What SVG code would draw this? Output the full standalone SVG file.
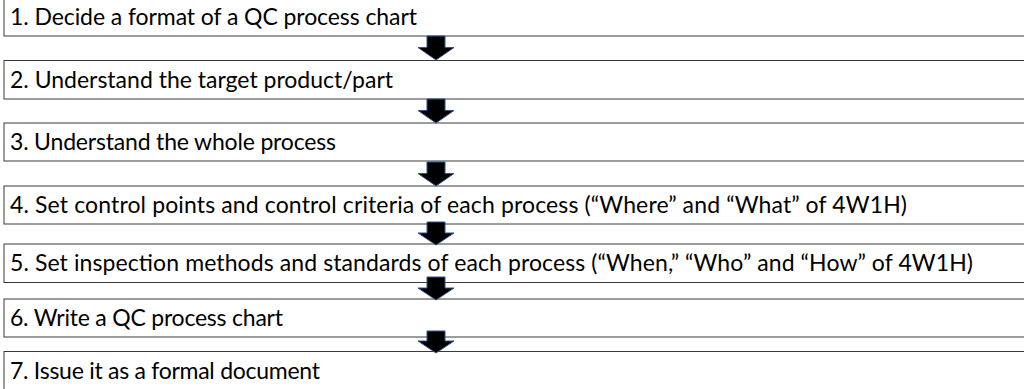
<svg xmlns="http://www.w3.org/2000/svg" width="1024" height="389" viewBox="0 0 1024 389">
  <style>
    .step rect { fill: #ffffff; stroke: #3a3a3a; stroke-width: 1; }
    .step text { font-family: Lato, "Liberation Sans", sans-serif; font-size: 23px; fill: #000000; }
    .flow path { fill: #000000; stroke: #2f528f; stroke-width: 1; stroke-linejoin: miter; }
  </style>
  <rect width="1024" height="389" fill="#ffffff"/>

  <g id="step1" class="step">
    <rect x="4" y="-2" width="1030" height="38"/>
    <text x="10" y="25" textLength="407" lengthAdjust="spacing">1. Decide a format of a QC process chart</text>
  </g>
  <g id="step2" class="step">
    <rect x="4" y="60.5" width="1030" height="38.5"/>
    <text x="10" y="87.5" textLength="383" lengthAdjust="spacing">2. Understand the target product/part</text>
  </g>
  <g id="step3" class="step">
    <rect x="4" y="123" width="1030" height="38"/>
    <text x="10" y="150" textLength="326" lengthAdjust="spacing">3. Understand the whole process</text>
  </g>
  <g id="step4" class="step">
    <rect x="4" y="186" width="1030" height="38"/>
    <text x="10" y="213" textLength="897" lengthAdjust="spacing">4. Set control points and control criteria of each process (“Where” and “What” of 4W1H)</text>
  </g>
  <g id="step5" class="step">
    <rect x="4" y="244" width="1030" height="38.5"/>
    <text x="10" y="271" textLength="963" lengthAdjust="spacing">5. Set inspection methods and standards of each process (“When,” “Who” and “How” of 4W1H)</text>
  </g>
  <g id="step6" class="step">
    <rect x="4" y="299" width="1030" height="38"/>
    <text x="10" y="326" textLength="273" lengthAdjust="spacing">6. Write a QC process chart</text>
  </g>
  <g id="step7" class="step">
    <rect x="4" y="351.5" width="1030" height="40"/>
    <text x="10" y="378.5" textLength="310" lengthAdjust="spacing">7. Issue it as a formal document</text>
  </g>

  <!-- block arrows between consecutive steps -->
  <g id="connectors" class="flow">
    <path d="M 427 36 L 445 36 L 445 47.5 L 454 47.5 L 436 60 L 418 47.5 L 427 47.5 Z"/>
    <path d="M 427 99 L 445 99 L 445 110.5 L 454 110.5 L 436 123 L 418 110.5 L 427 110.5 Z"/>
    <path d="M 427 162 L 445 162 L 445 173.5 L 454 173.5 L 436 186 L 418 173.5 L 427 173.5 Z"/>
    <path d="M 427 222 L 445 222 L 445 233 L 454 233 L 436 245 L 418 233 L 427 233 Z"/>
    <path d="M 427 277 L 445 277 L 445 288 L 454 288 L 436 300 L 418 288 L 427 288 Z"/>
    <path d="M 427 331 L 445 331 L 445 341 L 454 341 L 436 353 L 418 341 L 427 341 Z"/>
  </g>
</svg>
